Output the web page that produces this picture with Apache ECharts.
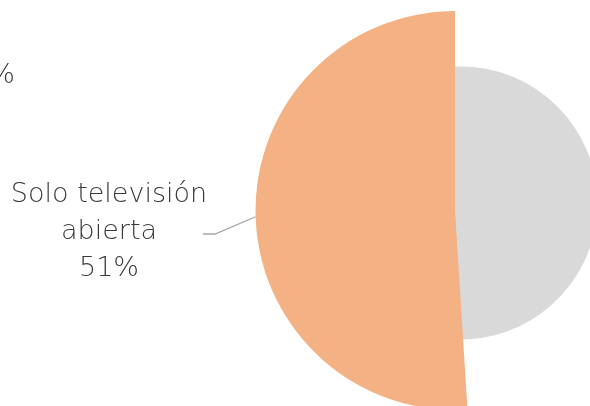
<!DOCTYPE html>
<html><head><meta charset="utf-8">
<script src="https://cdn.jsdelivr.net/npm/echarts@6/dist/echarts.min.js"></script>
<style>html,body{margin:0;padding:0;background:#fff}#c{width:590px;height:406px}</style>
</head><body><div id="c"></div>
<script>
// Data
const categories = ['Otro', 'Solo televisión abierta'];
const values = [49, 51];
const sliceColors = ['#D9D9D9', '#F4B183'];
const partialLabelText = '%';

// Layout / style
const FONT = 'DejaVu Sans';
const FONT_WEIGHT = 200;
const FONT_SIZE = 27;
const TEXT_COLOR = '#3a3a3a';

const chart = echarts.init(document.getElementById('c'), null, {renderer: 'canvas'});

// Grey slice: drawn as its own disc beneath (its left part is hidden by the orange slice)
const greySeries = {
  type: 'pie',
  center: [461, 203],
  radius: [0, 136],
  startAngle: 90,
  clockwise: true,
  silent: true,
  animation: false,
  z: 1,
  label: {show: false},
  labelLine: {show: false},
  data: categories.map((name, i) => ({
    name: name,
    value: values[i],
    itemStyle: {color: sliceColors[0], borderColor: sliceColors[0], borderWidth: 1}
  }))
};

// Orange slice: big sector with outside label
const orangeSeries = {
  type: 'pie',
  center: [455, 210.5],
  radius: [0, 199.5],
  startAngle: 90,
  clockwise: true,
  silent: true,
  animation: false,
  z: 3,
  data: categories.map((name, i) => ({
    name: name,
    value: values[i],
    itemStyle: {color: i === 1 ? sliceColors[1] : 'rgba(0,0,0,0)', borderWidth: 0},
    label: {show: i === 1},
    labelLine: {show: i === 1}
  })),
  label: {
    position: 'outside',
    formatter: p => p.name.replace(' abierta', '\nabierta') + '\n' + Math.round(p.percent) + '%',
    fontFamily: FONT,
    fontWeight: FONT_WEIGHT,
    fontSize: FONT_SIZE,
    lineHeight: 37,
    color: TEXT_COLOR,
    align: 'center'
  },
  labelLine: {
    lineStyle: {color: '#A6A6A6', width: 1.3},
    length: 15,
    length2: 12
  },
  labelLayout: function (params) {
    const p0 = params.labelLinePoints && params.labelLinePoints[0];
    const lx = 109, ly = 232;
    const res = {x: lx, y: ly, align: 'center', verticalAlign: 'middle'};
    if (p0) {
      res.labelLinePoints = [[p0[0], p0[1]], [lx + 106, ly + 2], [lx + 94, ly + 2]];
    }
    return res;
  }
};

chart.setOption({
  backgroundColor: '#ffffff',
  animation: false,
  series: [greySeries, orangeSeries],
  graphic: [{
    type: 'text',
    x: 15,
    y: 76,
    style: {
      text: partialLabelText,
      fontFamily: FONT,
      fontWeight: FONT_WEIGHT,
      fontSize: FONT_SIZE,
      fill: TEXT_COLOR,
      align: 'right',
      verticalAlign: 'middle'
    }
  }]
});
</script>
</body></html>
